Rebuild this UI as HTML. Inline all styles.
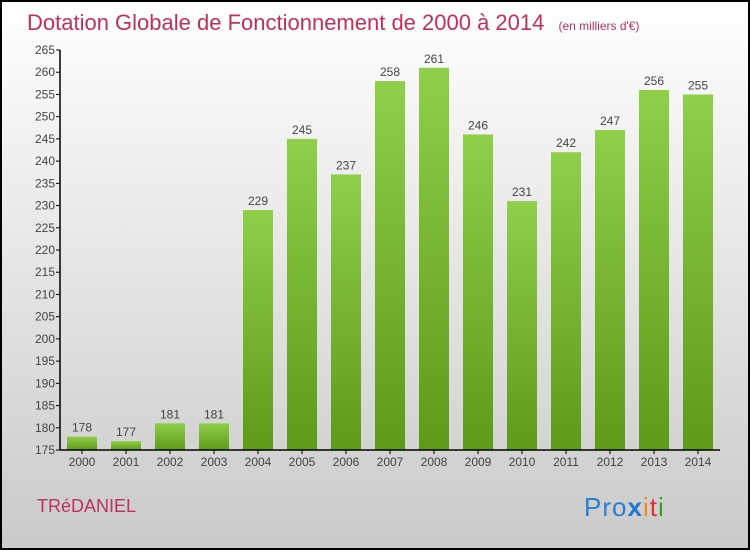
<!DOCTYPE html>
<html><head><meta charset="utf-8"><style>
body{margin:0}
#c{position:relative;width:750px;height:550px;font-family:"Liberation Sans",sans-serif}
</style></head><body>
<div id="c">
<svg width="750" height="550" xmlns="http://www.w3.org/2000/svg">
<defs>
<linearGradient id="bg" x1="0" y1="0" x2="0" y2="1"><stop offset="0" stop-color="#ffffff"/><stop offset="1" stop-color="#cacaca"/></linearGradient>
<linearGradient id="bar" x1="0" y1="0" x2="0" y2="1"><stop offset="0" stop-color="#8fcf4a"/><stop offset="1" stop-color="#5e9a18"/></linearGradient>
</defs>
<rect x="1" y="1" width="748" height="548" fill="url(#bg)" stroke="#000" stroke-width="2"/>
<text x="27" y="30" font-size="22" fill="#c0305f">Dotation Globale de Fonctionnement de 2000 à 2014 <tspan font-size="12" dx="8">(en milliers d'€)</tspan></text>
<g id="plot"></g>
<text x="37" y="512" font-size="18" fill="#c0305f">TRéDANIEL</text>
<text x="584" y="516" font-size="26" fill="#2a7fd4" letter-spacing="1">Pro<tspan fill="#1f78d1" font-weight="bold">x</tspan><tspan fill="#f08a10">i</tspan><tspan fill="#e03030">t</tspan><tspan fill="#3a9a30">i</tspan></text>
</svg>
</div>
<script>
const years=["2000","2001","2002","2003","2004","2005","2006","2007","2008","2009","2010","2011","2012","2013","2014"];
const values=[178,177,181,181,229,245,237,258,261,246,231,242,247,256,255];
const yTicks=[175,180,185,190,195,200,205,210,215,220,225,230,235,240,245,250,255,260,265];
const NS="http://www.w3.org/2000/svg";
const g=document.getElementById('plot');
const y0=450,y1=50,vmin=175,vmax=265;
const ys=v=>y0-(v-vmin)/(vmax-vmin)*(y0-y1);
const xs=i=>82+i*44;
function mk(t,a){const e=document.createElementNS(NS,t);for(const k in a)e.setAttribute(k,a[k]);g.appendChild(e);return e;}
yTicks.forEach(t=>{
 const l=mk('line',{x1:56,x2:60,y1:ys(t),y2:ys(t),stroke:'#000'});
 
 
 const tx=mk('text',{x:55,y:ys(t)+4,'text-anchor':'end','font-size':12,fill:'#444'});
 tx.textContent=t;
 
 
});
years.forEach((yr,i)=>{
 const v=values[i];
 const r=mk('rect',{x:xs(i)-15,y:ys(v),width:30,height:y0-ys(v),fill:'url(#bar)'});
 
 
 const vl=mk('text',{x:xs(i),y:ys(v)-5,'text-anchor':'middle','font-size':12,fill:'#444'});
 vl.textContent=v;
 
 
 const tk=mk('line',{x1:xs(i),x2:xs(i),y1:y0,y2:y0+4,stroke:'#000'});
 
 
 const xl=mk('text',{x:xs(i),y:466,'text-anchor':'middle','font-size':12,fill:'#444'});
 xl.textContent=yr;
 
 
});
const ya=mk('line',{x1:60,x2:60,y1:y1,y2:y0,stroke:'#000','stroke-width':1.5});


const xa=mk('line',{x1:60,x2:720,y1:y0,y2:y0,stroke:'#000','stroke-width':1.5});


</script>
</body></html>
